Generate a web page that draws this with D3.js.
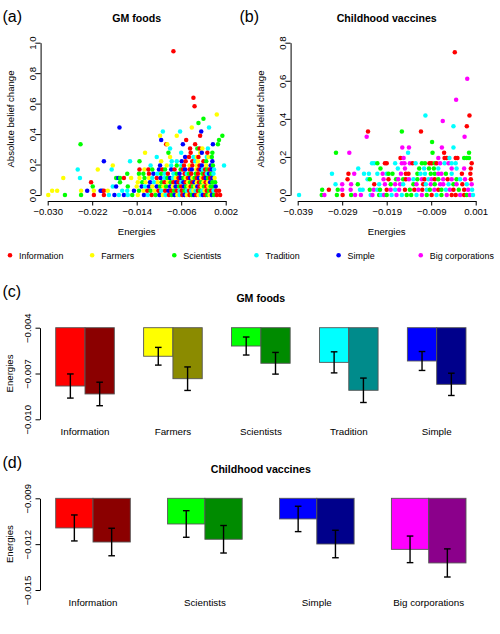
<!DOCTYPE html>
<html>
<head>
<meta charset="utf-8">
<script src="https://cdn.jsdelivr.net/npm/d3@7"></script>
<style>
body { margin: 0; background: #fff; }
svg { font-family: "Liberation Sans", Arial, sans-serif; }
</style>
</head>
<body>
<svg id="svg" width="500" height="634"></svg>
<script>
// groups used in the legend and in the scatter points (index = 3rd value of each point)
const groupNames = ["Information", "Farmers", "Scientists", "Tradition", "Simple", "Big corporations"];
const groupColors = ["#ff0000", "#ffff00", "#00ff00", "#00ffff", "#0000ff", "#ff00ff"];

// (a) GM foods : [energy, absolute belief change, group]
const gmPoints = [
  [-0.0074,0.944,0],[-0.0038,0.639,0],[-0.0036,0.583,0],[0.0004,0.528,1],[-0.0020,0.500,2],[-0.0029,0.472,2],
  [-0.0171,0.444,4],[-0.0041,0.444,1],[-0.0010,0.444,3],[-0.0093,0.417,3],[-0.0062,0.417,3],[-0.0024,0.417,4],
  [-0.0098,0.389,1],[-0.0068,0.389,1],[-0.0026,0.389,0],[0.0014,0.389,2],[-0.0096,0.361,4],[-0.0051,0.361,0],[0.0008,0.361,2],
  [-0.0241,0.333,2],[-0.0087,0.333,0],[-0.0085,0.333,1],[-0.0057,0.333,4],[-0.0035,0.333,0],[-0.0003,0.333,4],[0.0006,0.333,2],
  [-0.0080,0.306,3],[-0.0044,0.306,0],[-0.0031,0.306,2],[-0.0027,0.306,0],[-0.0022,0.306,1],[-0.0012,0.306,3],
  [-0.0125,0.278,1],[-0.0083,0.278,2],[-0.0060,0.278,3],[-0.0043,0.278,0],[-0.0026,0.278,1],[-0.0023,0.278,4],[-0.0013,0.278,0],[-0.0004,0.278,2],
  [-0.0104,0.250,3],[-0.0080,0.250,1],[-0.0053,0.250,4],[-0.0046,0.250,0],[-0.0038,0.250,3],[-0.0032,0.250,1],[-0.0029,0.250,0],[-0.0014,0.250,3],[-0.0011,0.250,1],[-0.0005,0.250,2],
  [-0.0199,0.222,4],[-0.0152,0.222,3],[-0.0135,0.222,2],[-0.0096,0.222,1],[-0.0077,0.222,3],[-0.0068,0.222,3],[-0.0059,0.222,4],[-0.0052,0.222,0],
  [-0.0040,0.222,0],[-0.0035,0.222,3],[-0.0030,0.222,1],[-0.0020,0.222,0],[-0.0015,0.222,2],[-0.0004,0.222,4],
  [-0.0183,0.194,1],[-0.0115,0.194,3],[-0.0098,0.194,4],[-0.0086,0.194,1],[-0.0078,0.194,3],[-0.0068,0.194,2],[-0.0060,0.194,3],[-0.0055,0.194,0],
  [-0.0045,0.194,1],[-0.0040,0.194,0],[-0.0032,0.194,1],[-0.0027,0.194,0],[-0.0023,0.194,4],[-0.0015,0.194,1],
  [-0.0007,0.194,4],[-0.0003,0.194,2],[0.0017,0.194,3],
  [-0.0246,0.167,3],[-0.0210,0.167,1],[-0.0185,0.167,3],[-0.0135,0.167,0],[-0.0126,0.167,1],[-0.0119,0.167,0],[-0.0112,0.167,2],[-0.0100,0.167,4],
  [-0.0094,0.167,0],[-0.0089,0.167,2],[-0.0078,0.167,4],[-0.0072,0.167,0],[-0.0061,0.167,2],[-0.0057,0.167,0],[-0.0053,0.167,4],
  [-0.0045,0.167,0],[-0.0041,0.167,4],[-0.0033,0.167,1],[-0.0029,0.167,0],[-0.0025,0.167,4],[-0.0021,0.167,3],[-0.0017,0.167,0],
  [-0.0013,0.167,2],[-0.0009,0.167,0],[-0.0005,0.167,4],[-0.0001,0.167,3],
  [-0.0157,0.139,2],[-0.0136,0.139,2],[-0.0128,0.139,2],[-0.0118,0.139,0],[-0.0110,0.139,4],[-0.0103,0.139,3],[-0.0096,0.139,2],[-0.0090,0.139,3],[-0.0084,0.139,0],
  [-0.0074,0.139,3],[-0.0068,0.139,2],[-0.0063,0.139,4],[-0.0054,0.139,0],[-0.0050,0.139,3],[-0.0046,0.139,2],[-0.0042,0.139,0],
  [-0.0034,0.139,2],[-0.0030,0.139,0],[-0.0022,0.139,2],[-0.0018,0.139,0],[-0.0014,0.139,3],[-0.0010,0.139,4],[-0.0006,0.139,2],[-0.0002,0.139,3],
  [-0.0272,0.111,1],[-0.0242,0.111,3],[-0.0177,0.111,2],[-0.0173,0.111,4],[-0.0170,0.111,2],[-0.0163,0.111,0],[-0.0150,0.111,1],[-0.0135,0.111,1],[-0.0126,0.111,2],
  [-0.0118,0.111,1],[-0.0112,0.111,3],[-0.0104,0.111,0],[-0.0097,0.111,4],[-0.0090,0.111,3],[-0.0085,0.111,2],[-0.0080,0.111,4],[-0.0075,0.111,3],[-0.0070,0.111,1],
  [-0.0065,0.111,0],[-0.0061,0.111,4],[-0.0056,0.111,2],[-0.0052,0.111,1],[-0.0048,0.111,0],[-0.0044,0.111,4],[-0.0040,0.111,1],[-0.0036,0.111,2],[-0.0032,0.111,0],
  [-0.0028,0.111,4],[-0.0024,0.111,1],[-0.0020,0.111,0],[-0.0016,0.111,4],[-0.0012,0.111,2],[-0.0008,0.111,0],[-0.0004,0.111,4],[0.0000,0.111,1],
  [-0.0222,0.083,0],[-0.0170,0.083,2],[-0.0138,0.083,1],[-0.0130,0.083,2],[-0.0124,0.083,1],[-0.0116,0.083,4],[-0.0109,0.083,3],[-0.0102,0.083,1],[-0.0095,0.083,2],
  [-0.0090,0.083,0],[-0.0084,0.083,1],[-0.0079,0.083,2],[-0.0074,0.083,0],[-0.0069,0.083,4],[-0.0065,0.083,0],[-0.0060,0.083,3],[-0.0056,0.083,4],[-0.0052,0.083,0],
  [-0.0048,0.083,1],[-0.0044,0.083,2],[-0.0040,0.083,0],[-0.0036,0.083,4],[-0.0032,0.083,1],[-0.0028,0.083,0],[-0.0024,0.083,2],[-0.0020,0.083,1],[-0.0016,0.083,0],
  [-0.0012,0.083,1],[-0.0008,0.083,4],[-0.0004,0.083,2],[0.0001,0.083,2],
  [-0.0219,0.056,2],[-0.0183,0.056,3],[-0.0177,0.056,4],[-0.0156,0.056,2],[-0.0140,0.056,1],[-0.0131,0.056,4],[-0.0125,0.056,3],[-0.0118,0.056,4],[-0.0112,0.056,1],
  [-0.0104,0.056,4],[-0.0098,0.056,2],[-0.0092,0.056,1],[-0.0087,0.056,2],[-0.0080,0.056,4],[-0.0075,0.056,1],[-0.0070,0.056,4],[-0.0064,0.056,2],[-0.0060,0.056,0],
  [-0.0055,0.056,4],[-0.0051,0.056,2],[-0.0047,0.056,1],[-0.0043,0.056,0],[-0.0039,0.056,2],[-0.0035,0.056,1],[-0.0031,0.056,4],[-0.0027,0.056,0],[-0.0023,0.056,1],
  [-0.0019,0.056,2],[-0.0015,0.056,0],[-0.0011,0.056,1],[-0.0007,0.056,2],[-0.0003,0.056,2],[0.0002,0.056,4],
  [-0.0292,0.028,1],[-0.0283,0.028,1],[-0.0240,0.028,1],[-0.0229,0.028,4],[-0.0217,0.028,1],[-0.0205,0.028,4],[-0.0202,0.028,4],[-0.0199,0.028,0],[-0.0192,0.028,1],
  [-0.0166,0.028,3],[-0.0157,0.028,3],[-0.0145,0.028,4],[-0.0136,0.028,2],[-0.0128,0.028,1],[-0.0121,0.028,0],[-0.0115,0.028,2],[-0.0108,0.028,1],[-0.0101,0.028,0],
  [-0.0096,0.028,3],[-0.0089,0.028,0],[-0.0083,0.028,4],[-0.0078,0.028,0],[-0.0073,0.028,2],[-0.0068,0.028,0],[-0.0063,0.028,3],[-0.0059,0.028,0],[-0.0054,0.028,2],
  [-0.0050,0.028,3],[-0.0046,0.028,0],[-0.0042,0.028,3],[-0.0038,0.028,1],[-0.0034,0.028,3],[-0.0030,0.028,0],[-0.0026,0.028,2],[-0.0022,0.028,3],[-0.0018,0.028,1],
  [-0.0014,0.028,0],[-0.0010,0.028,2],[-0.0006,0.028,0],[-0.0002,0.028,3],[0.0003,0.028,0],[0.0008,0.028,0],
  [-0.0299,0,1],[-0.0269,0,2],[-0.0240,0,2],[-0.0217,0,0],[-0.0199,0,0],[-0.0190,0,3],[-0.0180,0,4],[-0.0172,0,3],[-0.0163,0,4],[-0.0156,0,3],[-0.0148,0,2],
  [-0.0138,0,1],[-0.0127,0,4],[-0.0120,0,3],[-0.0113,0,0],[-0.0106,0,2],[-0.0099,0,4],[-0.0093,0,1],[-0.0088,0,3],[-0.0082,0,0],[-0.0077,0,2],[-0.0072,0,4],
  [-0.0067,0,1],[-0.0063,0,3],[-0.0058,0,0],[-0.0054,0,4],[-0.0050,0,1],[-0.0045,0,0],[-0.0041,0,2],[-0.0037,0,4],[-0.0033,0,0],[-0.0029,0,1],[-0.0025,0,3],
  [-0.0021,0,4],[-0.0017,0,0],[-0.0013,0,2],[-0.0009,0,1],[-0.0005,0,4],[-0.0001,0,2],[0.0004,0,0],[0.0010,0,0]
];

// (b) Childhood vaccines : [energy, absolute belief change, group]
const vacPoints = [
  [-0.0037,0.750,0],[-0.0009,0.611,5],[-0.0034,0.500,5],[-0.0103,0.417,3],[-0.0004,0.417,0],[-0.0064,0.389,5],
  [-0.0040,0.361,3],[-0.0010,0.361,0],[-0.0232,0.333,0],[-0.0156,0.333,2],[-0.0113,0.333,0],[-0.0235,0.306,5],[-0.0015,0.306,5],
  [-0.0088,0.278,2],[-0.0155,0.250,5],[-0.0140,0.250,5],[-0.0066,0.250,5],[-0.0040,0.250,3],
  [-0.0304,0.222,2],[-0.0274,0.222,5],[-0.0142,0.222,3],[-0.0087,0.222,2],[-0.0061,0.222,0],[-0.0005,0.222,2],
  [-0.0159,0.194,0],[-0.0152,0.194,5],[-0.0074,0.194,5],[-0.0060,0.194,0],[-0.0055,0.194,0],[-0.0049,0.194,3],[-0.0035,0.194,0],[-0.0031,0.194,0],
  [-0.0016,0.194,2],[-0.0010,0.194,2],[-0.0005,0.194,2],
  [-0.0223,0.167,3],[-0.0218,0.167,3],[-0.0211,0.167,2],[-0.0194,0.167,0],[-0.0190,0.167,0],[-0.0171,0.167,3],[-0.0156,0.167,5],[-0.0150,0.167,5],
  [-0.0138,0.167,5],[-0.0132,0.167,0],[-0.0125,0.167,3],[-0.0111,0.167,2],[-0.0104,0.167,2],[-0.0094,0.167,0],[-0.0089,0.167,0],[-0.0082,0.167,2],
  [-0.0078,0.167,0],[-0.0070,0.167,5],[-0.0060,0.167,3],[-0.0051,0.167,5],[-0.0044,0.167,3],[-0.0035,0.167,3],[0.0001,0.167,0],
  [-0.0254,0.139,3],[-0.0204,0.139,2],[-0.0165,0.139,3],[-0.0149,0.139,5],[-0.0117,0.139,2],[-0.0106,0.139,3],[-0.0095,0.139,2],[-0.0084,0.139,2],
  [-0.0074,0.139,3],[-0.0044,0.139,5],[-0.0033,0.139,3],[-0.0016,0.139,5],[-0.0001,0.139,0],
  [-0.0313,0.111,3],[-0.0276,0.111,0],[-0.0263,0.111,5],[-0.0241,0.111,3],[-0.0230,0.111,3],[-0.0211,0.111,3],[-0.0199,0.111,5],[-0.0190,0.111,3],
  [-0.0186,0.111,2],[-0.0177,0.111,2],[-0.0158,0.111,5],[-0.0147,0.111,0],[-0.0141,0.111,0],[-0.0121,0.111,2],[-0.0114,0.111,3],[-0.0104,0.111,3],
  [-0.0091,0.111,2],[-0.0082,0.111,2],[-0.0074,0.111,5],[-0.0067,0.111,5],[-0.0057,0.111,2],[-0.0044,0.111,3],[-0.0021,0.111,0],[-0.0002,0.111,0],
  [-0.0278,0.083,0],[-0.0233,0.083,3],[-0.0228,0.083,2],[-0.0197,0.083,5],[-0.0186,0.083,0],[-0.0169,0.083,2],[-0.0164,0.083,5],[-0.0153,0.083,2],
  [-0.0147,0.083,0],[-0.0140,0.083,5],[-0.0130,0.083,3],[-0.0121,0.083,2],[-0.0111,0.083,5],[-0.0105,0.083,0],[-0.0096,0.083,3],[-0.0089,0.083,5],
  [-0.0082,0.083,0],[-0.0074,0.083,2],[-0.0063,0.083,5],[-0.0053,0.083,0],[-0.0044,0.083,5],[-0.0033,0.083,2],[-0.0025,0.083,3],[-0.0014,0.083,5],[-0.0001,0.083,0],
  [-0.0305,0.056,3],[-0.0290,0.056,5],[-0.0270,0.056,5],[-0.0255,0.056,2],[-0.0218,0.056,0],[-0.0207,0.056,3],[-0.0194,0.056,5],[-0.0181,0.056,2],
  [-0.0171,0.056,5],[-0.0160,0.056,5],[-0.0153,0.056,3],[-0.0130,0.056,2],[-0.0123,0.056,5],[-0.0108,0.056,0],[-0.0102,0.056,3],[-0.0091,0.056,5],
  [-0.0082,0.056,2],[-0.0070,0.056,5],[-0.0063,0.056,5],[-0.0051,0.056,3],[-0.0040,0.056,2],[-0.0033,0.056,5],[-0.0020,0.056,0],[-0.0010,0.056,3],[0.0001,0.056,5],
  [-0.0335,0.028,2],[-0.0320,0.028,0],[-0.0300,0.028,2],[-0.0290,0.028,5],[-0.0271,0.028,5],[-0.0250,0.028,3],[-0.0244,0.028,3],[-0.0228,0.028,2],
  [-0.0219,0.028,5],[-0.0211,0.028,3],[-0.0205,0.028,2],[-0.0190,0.028,0],[-0.0181,0.028,5],[-0.0171,0.028,3],[-0.0162,0.028,5],[-0.0149,0.028,0],
  [-0.0138,0.028,2],[-0.0128,0.028,0],[-0.0119,0.028,5],[-0.0110,0.028,0],[-0.0100,0.028,3],[-0.0093,0.028,2],[-0.0083,0.028,5],[-0.0074,0.028,0],
  [-0.0067,0.028,2],[-0.0057,0.028,3],[-0.0048,0.028,5],[-0.0040,0.028,0],[-0.0028,0.028,2],[-0.0016,0.028,0],[-0.0007,0.028,5],[0.0002,0.028,3],
  [-0.0387,0,3],[-0.0336,0,2],[-0.0330,0,5],[-0.0302,0,2],[-0.0289,0,0],[-0.0270,0,2],[-0.0261,0,5],[-0.0248,0,5],[-0.0226,0,3],[-0.0222,0,5],
  [-0.0207,0,2],[-0.0203,0,3],[-0.0196,0,5],[-0.0190,0,2],[-0.0179,0,3],[-0.0168,0,5],[-0.0156,0,3],[-0.0145,0,2],[-0.0135,0,2],[-0.0123,0,3],
  [-0.0111,0,5],[-0.0100,0,2],[-0.0089,0,0],[-0.0078,0,3],[-0.0067,0,2],[-0.0055,0,5],[-0.0044,0,0],[-0.0035,0,0],[-0.0025,0,5],[-0.0016,0,0],
  [-0.0010,0,2],[-0.0003,0,5],[0.0004,0,3]
];

// (c) GM foods energies
const gmCategories = ["Information", "Farmers", "Scientists", "Tradition", "Simple"];
const gmFirst = [-0.00782, -0.00587, -0.00520, -0.00627, -0.00618];
const gmSecond = [-0.00834, -0.00734, -0.00633, -0.00810, -0.00771];
const gmFirstErr = [0.00079, 0.00058, 0.00059, 0.00069, 0.00062];
const gmSecondErr = [0.00077, 0.00077, 0.00071, 0.00080, 0.00073];

// (d) Childhood vaccines energies
const vacCategories = ["Information", "Scientists", "Simple", "Big corporations"];
const vacFirst = [-0.01094, -0.01068, -0.01035, -0.01234];
const vacSecond = [-0.01186, -0.01168, -0.01199, -0.01323];
const vacFirstErr = [0.00085, 0.00087, 0.00083, 0.00087];
const vacSecondErr = [0.00090, 0.00090, 0.00090, 0.00092];

const lightColors = {"Information": "#ff0000", "Farmers": "#ffff00", "Scientists": "#00ff00", "Tradition": "#00ffff", "Simple": "#0000ff", "Big corporations": "#ff00ff"};
const darkColors = {"Information": "#8b0000", "Farmers": "#8b8b00", "Scientists": "#008b00", "Tradition": "#008b8b", "Simple": "#00008b", "Big corporations": "#8b008b"};

var svg = d3.select("#svg");
const FS = 9.6;

function cleanAxis(ax) {
    ax.attr("font-size", null).attr("font-family", null);
    ax.selectAll("text").attr("font-size", FS).attr("fill", "#000");
    ax.selectAll("line, path").attr("stroke", "#000");
}

// R style left axis with labels turned to read upwards
function leftAxis(x, scale, ticks, fmt, labelShift) {
    var ax = svg.append("g")
        .attr("transform", "translate(" + x + ",0)")
        .call(d3.axisLeft(scale).tickValues(ticks).tickFormat(fmt).tickSize(4.5).tickSizeOuter(0));
    cleanAxis(ax);
    ax.selectAll(".tick text")
        .attr("x", 0).attr("dy", null)
        .attr("text-anchor", "middle")
        .attr("transform", "translate(" + (-labelShift) + ",0) rotate(-90)");
    return ax;
}

function bottomAxis(y, scale, ticks, fmt) {
    var ax = svg.append("g")
        .attr("transform", "translate(0," + y + ")")
        .call(d3.axisBottom(scale).tickValues(ticks).tickFormat(fmt).tickSize(4.5).tickSizeOuter(0).tickPadding(3));
    cleanAxis(ax);
    return ax;
}

function addText(x, y, txt, size, weight, anchor, rotate) {
    var t = svg.append("text")
        .attr("x", x).attr("y", y)
        .attr("font-size", size)
        .attr("font-weight", weight || "normal")
        .attr("text-anchor", anchor || "middle")
        .text(txt);
    if (rotate) t.attr("transform", "rotate(-90," + x + "," + y + ")");
    return t;
}

// scatter panels
function scatter(points, xDom, xTicks, yDom, yTicks, xr, axisX, title, tag, tagX) {
    var x = d3.scaleLinear().domain(xDom).range(xr);
    var y = d3.scaleLinear().domain(yDom).range([195, 42.7]);

    svg.append("g").selectAll("circle")
        .data(points)
        .enter()
        .append("circle")
        .attr("cx", d => x(d[0]))
        .attr("cy", d => y(d[1]))
        .attr("r", 2.25)
        .attr("fill", d => groupColors[d[2]]);

    bottomAxis(201, x, xTicks, d3.format(".3f"));
    leftAxis(axisX, y, yTicks, d3.format(".1f"), 4.8);

    var cx = (xr[0] + xr[1]) / 2;
    addText(cx, 21.5, title, 10.6, "bold");
    addText(cx, 234.5, "Energies", FS);
    addText(axisX - 26.5, 119, "Absolute belief change", FS, "normal", "middle", true);
    addText(tagX, 21.5, tag, 16, "normal", "start");
}

scatter(gmPoints, [-0.030, 0.002], [-0.030, -0.022, -0.014, -0.006, 0.002], [0, 1],
    [0, 0.2, 0.4, 0.6, 0.8, 1.0], [47.7, 225.7], 40.6, "GM foods", "(a)", 2.5);
scatter(vacPoints, [-0.039, 0.001], [-0.039, -0.029, -0.019, -0.009, 0.001], [0, 0.8],
    [0, 0.2, 0.4, 0.6, 0.8], [297.7, 475.7], 290.6, "Childhood vaccines", "(b)", 239.5);

// legend
var legend = svg.append("g").selectAll("g")
    .data(groupNames)
    .enter()
    .append("g")
    .attr("transform", (d, i) => "translate(" + (10 + i * 82.15) + ",255.3)");
legend.append("circle").attr("r", 2.3).attr("fill", (d, i) => groupColors[i]);
legend.append("text").attr("x", 9).attr("y", 3.2).attr("font-size", 8.9).text(d => d);

// bar panels
function bars(cats, first, second, firstErr, secondErr, yDom, yTicks, yr, bandRange, title, tag, top) {
    var x0 = d3.scaleBand().domain(cats).range(bandRange).paddingInner(1 / 3).paddingOuter(1 / 6);
    var x1 = d3.scaleBand().domain(["first", "second"]).range([0, x0.bandwidth()]);
    var y = d3.scaleLinear().domain(yDom).range(yr);

    var rows = cats.map((c, i) => [
        {cat: c, key: "first", v: first[i], e: firstErr[i], color: lightColors[c]},
        {cat: c, key: "second", v: second[i], e: secondErr[i], color: darkColors[c]}
    ]).flat();

    var g = svg.append("g");
    g.selectAll("rect")
        .data(rows)
        .enter()
        .append("rect")
        .attr("x", d => x0(d.cat) + x1(d.key))
        .attr("y", y(yDom[0]))
        .attr("width", x1.bandwidth())
        .attr("height", d => y(d.v) - y(yDom[0]))
        .attr("fill", d => d.color)
        .attr("stroke", "#555")
        .attr("stroke-width", 0.9);

    var err = g.selectAll("g.err")
        .data(rows)
        .enter()
        .append("g")
        .attr("class", "err")
        .attr("stroke", "#000")
        .attr("stroke-width", 1.4)
        .attr("transform", d => "translate(" + (x0(d.cat) + x1(d.key) + x1.bandwidth() / 2) + ",0)");
    err.append("line").attr("y1", d => y(d.v - d.e)).attr("y2", d => y(d.v + d.e));
    err.append("line").attr("x1", -3.3).attr("x2", 3.3).attr("y1", d => y(d.v - d.e)).attr("y2", d => y(d.v - d.e));
    err.append("line").attr("x1", -3.3).attr("x2", 3.3).attr("y1", d => y(d.v + d.e)).attr("y2", d => y(d.v + d.e));

    svg.append("g").selectAll("text")
        .data(cats)
        .enter()
        .append("text")
        .attr("x", d => x0(d) + x0.bandwidth() / 2)
        .attr("y", yr[1] + 16)
        .attr("text-anchor", "middle")
        .attr("font-size", 9.8)
        .text(d => d);

    leftAxis(40, y, yTicks, d3.format(".3f"), 9);
    addText(260.8, top + 22, title, 10.6, "bold");
    addText(13, (yr[0] + yr[1]) / 2, "Energies", FS, "normal", "middle", true);
    addText(2.5, top + 17, tag, 16, "normal", "start");
}

bars(gmCategories, gmFirst, gmSecond, gmFirstErr, gmSecondErr, [-0.004, -0.010], [-0.004, -0.007, -0.010],
    [327.7, 419.3], [41.05, 480.65], "GM foods", "(c)", 280);
bars(vacCategories, vacFirst, vacSecond, vacFirstErr, vacSecondErr, [-0.009, -0.015], [-0.009, -0.012, -0.015],
    [498.3, 590], [37.05, 484.65], "Childhood vaccines", "(d)", 451);
</script>
</body>
</html>
